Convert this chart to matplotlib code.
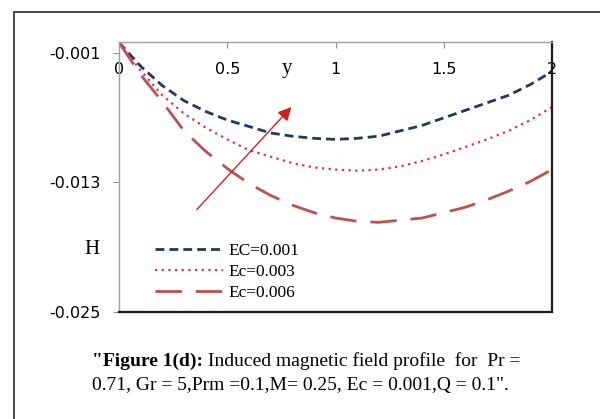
import matplotlib
matplotlib.use('Agg')
import matplotlib.pyplot as plt
from matplotlib.patches import Rectangle

# values
y = [0.0, 0.1, 0.2, 0.3, 0.4, 0.5, 0.6, 0.7, 0.8, 0.9, 1.0,
     1.1, 1.2, 1.3, 1.4, 1.5, 1.6, 1.7, 1.8, 1.9, 2.0]
H_ec001 = [0.0, -0.0022, -0.0040, -0.0054, -0.0064, -0.0072, -0.0078, -0.0084, -0.0087, -0.0089, -0.0090,
           -0.0089, -0.0087, -0.0082, -0.0077, -0.0070, -0.0063, -0.0056, -0.0049, -0.0039, -0.0027]
H_ec003 = [0.0, -0.0026, -0.0049, -0.0066, -0.0079, -0.0090, -0.0100, -0.0106, -0.0112, -0.0116, -0.0118,
           -0.0119, -0.0118, -0.0115, -0.0110, -0.0104, -0.0097, -0.0090, -0.0082, -0.0072, -0.0060]
H_ec006 = [0.0, -0.0030, -0.0055, -0.0082, -0.0101, -0.0117, -0.0131, -0.0142, -0.0151, -0.0158, -0.0163,
           -0.0166, -0.0167, -0.0165, -0.0163, -0.0158, -0.0153, -0.0146, -0.0138, -0.0129, -0.0118]
labels = ['EC=0.001', 'Ec=0.003', 'Ec=0.006']
xticks = [0, 0.5, 1, 1.5, 2]
xticklabels = ['0', '0.5', '1', '1.5', '2']
yticks = [-0.025, -0.013, -0.001]
yticklabels = ['-0.025', '-0.013', '-0.001']

W, Hpx = 600, 419
fig = plt.figure(figsize=(6, 4.19), dpi=100)

# outer frame of the figure box (runs off the right and bottom edges)
fig.patches.append(Rectangle((14 / W, -0.2), 1.2, 1 - 12 / Hpx + 0.2, transform=fig.transFigure,
                             fill=False, edgecolor='#3a3a3a', lw=1.3, clip_on=False))

ax = fig.add_axes([119 / W, 1 - 311.7 / Hpx, (552 - 119) / W, (311.7 - 42.5) / Hpx])

ax.plot(y, H_ec001, color='#1f3864', lw=2.0, dashes=(3.2, 1.8), label=labels[0])
ax.plot(y, H_ec003, color='#e8303a', lw=1.6, dashes=(1.0, 2.0), label=labels[1])
ax.plot(y, H_ec006, color='#c0504d', lw=2.0, dashes=(9.5, 5.0), label=labels[2])

ax.set_xlim(0, 2)
ax.set_ylim(-0.025, 0)

ax.set_xticks(xticks)
ax.set_xticklabels(xticklabels)
ax.set_yticks(yticks)
ax.set_yticklabels(yticklabels)

ax.tick_params(axis='x', top=True, bottom=False, labeltop=True, labelbottom=False,
               direction='in', length=4, color='#909090', pad=-25, labelsize=11.5)
ax.tick_params(axis='y', direction='out', length=4.5, color='#909090', pad=9, labelsize=11.5)

for s in ['left', 'top']:
    ax.spines[s].set_color('#a0a0a0')
    ax.spines[s].set_linewidth(1.0)
for s in ['right', 'bottom']:
    ax.spines[s].set_color('#1a1a1a')
    ax.spines[s].set_linewidth(1.6)

serif = 'Liberation Serif'
ax.text(287 / W, 1 - 68 / Hpx, 'y', transform=fig.transFigure, family=serif,
        fontsize=15, ha='center', va='center')
ax.text(92 / W, 1 - 249 / Hpx, 'H', transform=fig.transFigure, family=serif,
        fontsize=15, ha='center', va='center')

# arrow showing increasing Ec
ax.annotate('', xy=(0.805, -0.0058), xytext=(0.351, -0.0157),
            arrowprops=dict(arrowstyle='-|>', color='#d0201e', lw=1.0, mutation_scale=20))

ax.legend(loc='center left', bbox_to_anchor=((155 - 119) / 433, (311.7 - 272) / 269.2),
          frameon=False, prop={'family': serif, 'size': 12.5}, handlelength=3.9,
          handletextpad=0.35, labelspacing=0.3, borderpad=0, borderaxespad=0)

# caption
fig.canvas.draw()
cap_size = 14
t1 = fig.text(92 / W, 1 - 361 / Hpx, '"Figure 1(d):', family=serif, weight='bold',
              fontsize=cap_size, ha='left', va='center')
bb = t1.get_window_extent(fig.canvas.get_renderer())
fig.text(bb.x1 / W, 1 - 361 / Hpx, ' Induced magnetic field profile  for  Pr =',
         family=serif, fontsize=cap_size, ha='left', va='center')
fig.text(92 / W, 1 - 385 / Hpx, '0.71, Gr = 5,Prm =0.1,M= 0.25, Ec = 0.001,Q = 0.1".',
         family=serif, fontsize=cap_size, ha='left', va='center')

fig.savefig('out.png', dpi=100)
